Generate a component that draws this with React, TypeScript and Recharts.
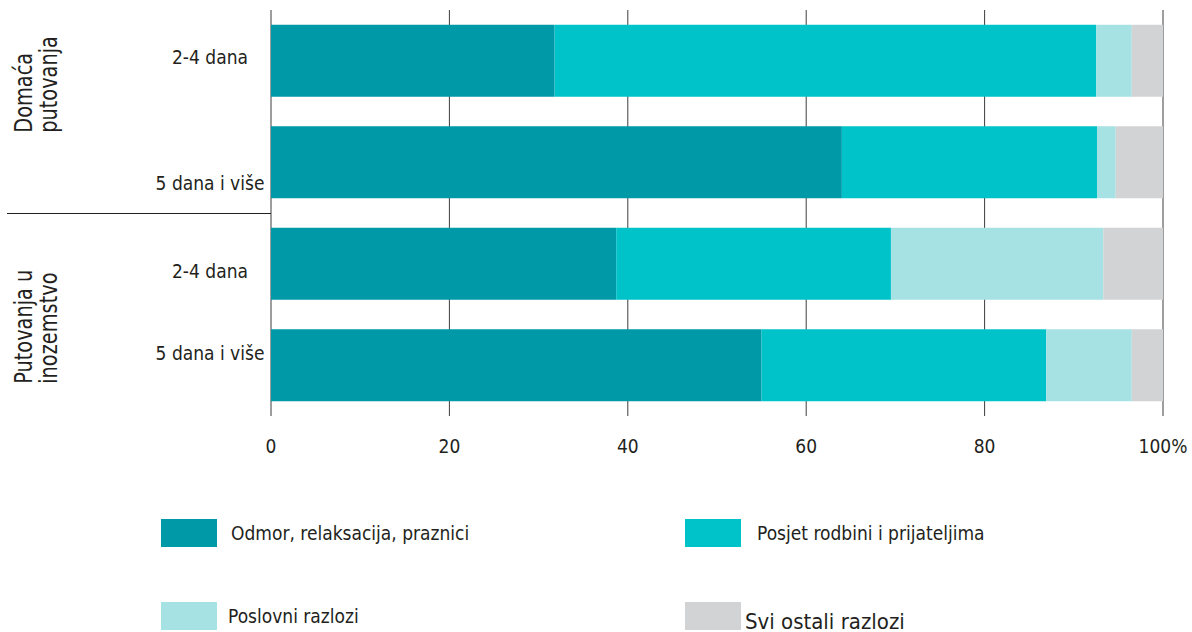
import { BarChart, Bar, XAxis, YAxis, CartesianGrid } from 'recharts'

// rows, top to bottom
const categories = ['2-4 dana', '5 dana i više', '2-4 dana', '5 dana i više']
const groups = [
  ['Domaća', 'putovanja'],
  ['Putovanja u', 'inozemstvo'],
]

// shares in %
const odmor = [31.8, 64.0, 38.7, 55.0]
const posjet = [60.7, 28.6, 30.8, 31.9]
const poslovni = [4.0, 2.1, 23.8, 9.6]
const ostalo = [3.5, 5.3, 6.7, 3.5]

const seriesKeys = ['odmor', 'posjet', 'poslovni', 'ostalo']
const seriesNames = [
  'Odmor, relaksacija, praznici',
  'Posjet rodbini i prijateljima',
  'Poslovni razlozi',
  'Svi ostali razlozi',
]
const seriesColors = ['#0099a8', '#00c3c9', '#a6e1e4', '#d1d3d4']

const xTicks = [0, 20, 40, 60, 80, 100]

const FONT = "'Liberation Sans Narrow', 'DejaVu Sans Condensed', 'Open Sans', sans-serif"

const data = categories.map((label, i) => ({
  label,
  odmor: odmor[i],
  posjet: posjet[i],
  poslovni: poslovni[i],
  ostalo: ostalo[i],
}))

// label nudges, the source is not regular here
const labelDy = [-4, 21, 7, -12]
const groupLayout = [
  { tick: 0, bottom: 72 },
  { tick: 2, bottom: 120 },
]
const groupBaselines = [32, 57]

function CategoryTick(props: any) {
  const { x, y, payload, index } = props
  const half = payload?.offset ?? 50.75
  const group = groupLayout.findIndex(g => g.tick === index)
  const sepY = Math.round(y + half) + 0.5
  return (
    <g>
      <text
        x={x - 61}
        y={y + labelDy[index]}
        textAnchor="middle"
        dominantBaseline="central"
        fontFamily={FONT}
        fontSize={19}
        fill="#231f20"
      >
        {payload.value}
      </text>
      {index === 1 && (
        <line x1={7} x2={x} y1={sepY} y2={sepY} stroke="#231f20" strokeWidth={1} />
      )}
      {group >= 0 &&
        groups[group].map((line, j) => {
          const lx = groupBaselines[j]
          const ly = y + groupLayout[group].bottom
          return (
            <text
              key={j}
              x={0}
              y={0}
              transform={`translate(${lx} ${ly}) rotate(-90) scale(0.86 1)`}
              textAnchor="start"
              fontFamily={FONT}
              fontSize={25}
              fill="#231f20"
            >
              {line}
            </text>
          )
        })}
    </g>
  )
}

const legendLayout = [
  { left: 161, top: 519, gap: 14, size: 19, dy: 0 },
  { left: 685, top: 519, gap: 16, size: 19, dy: 0 },
  { left: 161, top: 602, gap: 11, size: 19, dy: 0 },
  { left: 685, top: 602, gap: 4, size: 22, dy: 5 },
]

export default function App() {
  return (
    <div style={{ position: 'absolute', left: 0, top: 0, width: 1192, height: 632, background: '#fff' }}>
      <BarChart
        width={1192}
        height={470}
        data={data}
        layout="vertical"
        margin={{ top: 10, right: 29, left: 0, bottom: 0 }}
        barCategoryGap="14.5%"
      >
        <CartesianGrid horizontal={false} stroke="#3d3d3f" strokeWidth={1} />
        <XAxis
          type="number"
          domain={[0, 100]}
          ticks={xTicks}
          axisLine={false}
          tickLine={false}
          height={54}
          tickSize={0}
          tickMargin={24}
          tickFormatter={(v: number) => (v === 100 ? '100%' : String(v))}
          tick={{ fontSize: 19, fill: '#231f20', fontFamily: FONT }}
        />
        <YAxis
          type="category"
          dataKey="label"
          width={271}
          axisLine={false}
          tickLine={false}
          tickSize={0}
          tickMargin={0}
          interval={0}
          tick={<CategoryTick />}
        />
        {seriesKeys.map((key, i) => (
          <Bar
            key={key}
            dataKey={key}
            name={seriesNames[i]}
            stackId="a"
            fill={seriesColors[i]}
            isAnimationActive={false}
          />
        ))}
      </BarChart>
      {seriesNames.map((name, i) => {
        const l = legendLayout[i]
        return (
          <div
            key={name}
            style={{
              position: 'absolute',
              left: l.left,
              top: l.top,
              display: 'flex',
              alignItems: 'center',
              fontFamily: FONT,
              fontSize: l.size,
              color: '#231f20',
            }}
          >
            <span style={{ width: 56, height: 28, background: seriesColors[i], display: 'inline-block', flex: 'none' }} />
            <span style={{ marginLeft: l.gap, position: 'relative', top: l.dy, whiteSpace: 'nowrap' }}>{name}</span>
          </div>
        )
      })}
    </div>
  )
}
